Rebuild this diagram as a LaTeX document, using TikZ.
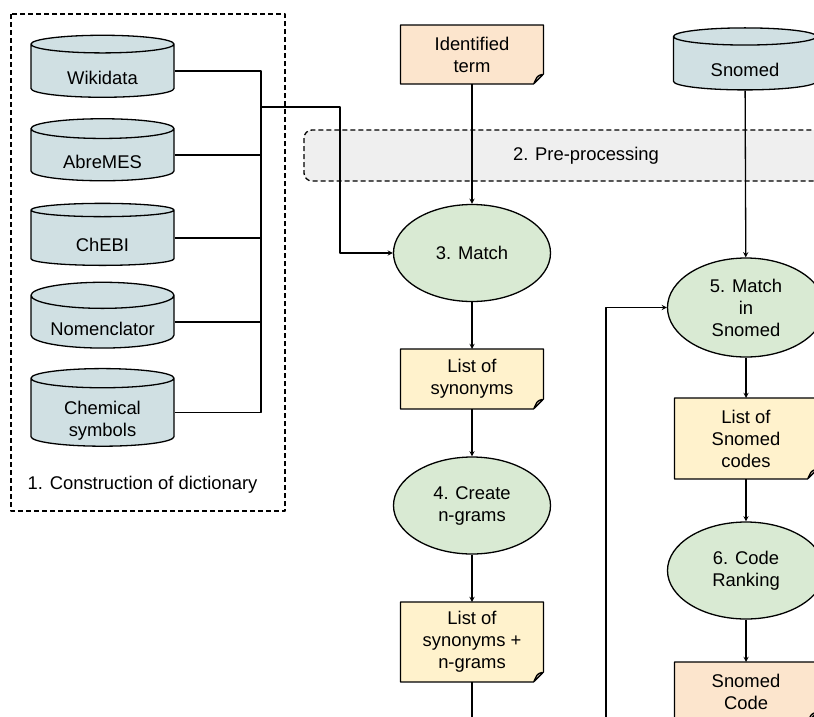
\documentclass[tikz,border=0pt]{standalone}
\usepackage{fontspec}
\setmainfont{Liberation Sans}
\usetikzlibrary{shapes.geometric,calc}
\definecolor{dbfill}{HTML}{D0E0E3}
\definecolor{stepfill}{HTML}{D9EAD3}
\definecolor{listfill}{HTML}{FFF2CC}
\definecolor{termfill}{HTML}{FCE5CD}
\definecolor{prefill}{HTML}{EFEFEF}
\definecolor{foldfill}{HTML}{C8B9A8}
\tikzset{
	db/.style={cylinder, shape border rotate=90, aspect=.25, draw, fill=dbfill, minimum width=143pt, minimum height=62pt, inner sep=0pt,
		align=center, text height=26pt, text depth=0pt},
	stepnode/.style={ellipse, draw, fill=stepfill, minimum width=157pt, minimum height=97pt, inner sep=0pt, align=center},
	doc/.style={rectangle, minimum width=143pt, minimum height=60pt, inner sep=0pt, outer sep=0pt, align=center},
	fold/.style={draw, fill=foldfill, line join=round, rounded corners=1.5pt},
	groupbox/.style={draw, dash pattern=on 5pt off 3pt},
}
% cut corner, outline and folded flap of a document node
\newcommand\docfold[1]{%
	\coordinate (c) at (#1.south -| #1.east);
	\fill[white] ($(c)+(-10.5,1)$) -- ($(c)+(1,1)$) -- ($(c)+(1,-10.5)$) -- cycle;
	\draw (#1.north west) -- (#1.north east) -- ($(c)+(0,-10)$) -- ($(c)+(-10,0)$) -- (#1.south west) -- cycle;
	\filldraw[fold] ($(c)+(-10,0)$) -- ($(c)+(-6,-8)$) -- ($(c)+(0,-10)$) -- cycle;}
\begin{document}
\begin{tikzpicture}[x=1pt, y=-1pt, >=stealth, line width=1.3pt, line join=round, font=\fontsize{18.4}{22}\selectfont]
	\useasboundingbox (0,0) rectangle (814,716);
	\clip (0,0) rectangle (814,716);
	% groups
	\draw[groupbox] (11,14) rectangle (285,511);
	\node (dictlbl) at (142.5,485) {1. Construction of dictionary};
	\draw[groupbox, fill=prefill, rounded corners=8pt] (304,130) rectangle (868,181);
	\node (prelbl) at (586,156) {2. Pre-processing};
	% dictionaries
	\node[db] (wiki) at (102.5,71) {Wikidata};
	\node[db] (abre) at (102.5,155) {AbreMES};
	\node[db] (chebi) at (102.5,238) {ChEBI};
	\node[db] (nomen) at (102.5,322) {Nomenclator};
	\node[db, minimum height=75pt, text height=48.2pt] (chem) at (102.5,412.5) {Chemical\\symbols};
	\node[db] (snomed) at (745,63.5) {Snomed};
	% steps
	\node[doc, fill=termfill, minimum height=59pt] (term) at (472,54.5) {Identified\\term};
	\node[stepnode] (match) at (472,253) {3. Match};
	\node[doc, fill=listfill] (syn) at (472,379) {List of\\synonyms};
	\node[stepnode] (ngram) at (472,505.5) {4. Create\\n-grams};
	\node[doc, fill=listfill, minimum height=80pt] (synngram) at (472,642) {List of\\synonyms +\\n-grams};
	\node[stepnode, minimum height=99pt] (snomatch) at (746,307.5) {5. Match\\in\\Snomed};
	\node[doc, fill=listfill, minimum height=81pt] (codes) at (746,438.5) {List of\\Snomed\\codes};
	\node[stepnode] (rank) at (746,570.5) {6. Code\\Ranking};
	\node[doc, fill=termfill] (code) at (746,692) {Snomed\\Code};
	\foreach \n in {term,syn,synngram,codes,code} {\docfold{\n}}
	% connectors
	\coordinate (bus) at (261,107);
	\coordinate (turn) at (340,107);
	\coordinate (down) at (472,730);
	\coordinate (loop) at (606,730);
	\draw (wiki.east) -- (wiki.east -| bus) -- (chem.east -| bus) -- (chem.east);
	\foreach \n in {abre,chebi,nomen} \draw (\n.east) -- (\n.east -| bus);
	\draw[->] (bus) -- (turn) |- (match.west);
	\draw[->] (term) -- (match);
	\draw[->] (match) -- (syn);
	\draw[->] (syn) -- (ngram);
	\draw[->] (ngram) -- (synngram);
	\draw (synngram) -- (down);
	\draw[->] (snomed) -- (snomatch);
	\draw[->] (loop) |- (snomatch.west);
	\draw[->] (snomatch) -- (codes);
	\draw[->] (codes) -- (rank);
	\draw[->] (rank) -- (code);
\end{tikzpicture}
\end{document}
